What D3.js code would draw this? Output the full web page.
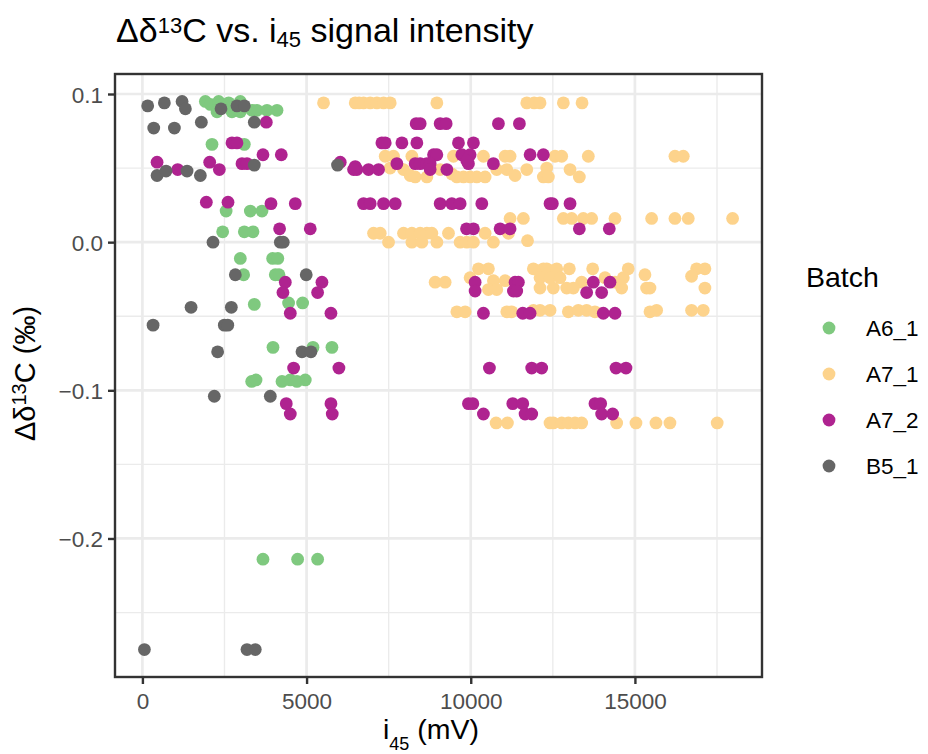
<!DOCTYPE html>
<html>
<head>
<meta charset="utf-8">
<script src="https://cdn.jsdelivr.net/npm/d3@7"></script>
<style>
  body { margin: 0; background: #fff; }
  svg { display: block; font-family: "Liberation Sans", Arial, Helvetica, sans-serif; }
</style>
</head>
<body>
<script>
// batches and their colours
const batches = ['A6_1', 'A7_1', 'A7_2', 'B5_1'];
const batchColors = ['#7FC97F', '#FDD38C', '#AF2390', '#666666'];

// [i45 (mV), delta d13C (permil)]
const a6_1 = [
  [1917,0.095],[2069,0.093],[2323,0.095],[2272,0.088],[2627,0.094],[2728,0.088],[2982,0.095],[2982,0.088],
  [3338,0.089],[3490,0.089],[3794,0.089],[4099,0.089],
  [2120,0.066],[3104,0.066],
  [2550,0.021],[3287,0.021],[3642,0.021],
  [2444,0.007],[3104,0.007],[3368,0.007],
  [2982,-0.011],[3966,-0.011],[4125,-0.011],
  [3083,-0.022],[4047,-0.022],[4160,-0.022],
  [3408,-0.042],[4452,-0.041],[4879,-0.041],
  [3977,-0.071],[5195,-0.071],[5773,-0.071],
  [3328,-0.094],[3460,-0.093],[4251,-0.094],[4504,-0.093],[4707,-0.094],[4960,-0.093],
  [3672,-0.214],[4727,-0.214],[5336,-0.214]
];

const a7_1 = [
  [5517,0.094],[6482,0.094],[6600,0.094],[6735,0.094],[6938,0.094],[7141,0.094],[7344,0.094],[7547,0.094],
  [8968,0.094],[11707,0.094],[11930,0.094],[12110,0.094],[12821,0.094],[13390,0.094],
  [7395,0.058],[7648,0.058],[8207,0.058],[9474,0.058],[10386,0.058],[11046,0.058],[11198,0.058],
  [12567,0.058],[12770,0.058],[13581,0.058],[16219,0.058],[16473,0.058],
  [7547,0.050],[7953,0.049],[8155,0.045],[8308,0.044],[8663,0.044],[9068,0.049],[9424,0.046],[9576,0.044],
  [9779,0.044],[9981,0.044],[10184,0.044],[10437,0.044],[10792,0.049],[11097,0.049],[11350,0.045],
  [11707,0.049],[12212,0.044],[12315,0.050],[12364,0.044],[13024,0.049],[13307,0.044],
  [11198,0.016],[11603,0.016],[12821,0.016],[13074,0.016],[13428,0.016],[13682,0.016],[14393,0.016],
  [15509,0.016],[16219,0.016],[16625,0.016],[17975,0.016],
  [7040,0.006],[7243,0.006],[7496,0.000],[7953,0.006],[8207,0.006],[8460,0.006],[8663,0.006],[8815,0.006],
  [8207,0.000],[8510,0.000],[8968,0.000],[9322,0.006],[9677,0.000],[9880,0.000],[10082,0.000],
  [10437,0.006],[10690,0.000],[11148,0.006],[11730,0.001],
  [10235,-0.018],[10538,-0.018],[11907,-0.018],[12212,-0.018],[12315,-0.018],[12619,-0.018],
  [13003,-0.018],[13713,-0.018],[14797,-0.018],[16879,-0.018],[17132,-0.018],
  [9981,-0.024],[12110,-0.024],[12415,-0.024],[12720,-0.024],[14089,-0.024],[14646,-0.024],
  [15306,-0.022],[16726,-0.023],
  [8916,-0.027],[9220,-0.027],[10690,-0.026],[11046,-0.026],[13378,-0.027],[14393,-0.027],
  [10538,-0.032],[10792,-0.032],[12110,-0.031],[12516,-0.031],[12922,-0.031],[13125,-0.031],
  [14596,-0.031],[15356,-0.031],[15458,-0.031],[17132,-0.031],
  [9576,-0.047],[9830,-0.047],[11097,-0.047],[11249,-0.047],[11909,-0.046],[12110,-0.046],
  [12415,-0.046],[12973,-0.047],[13277,-0.046],[13530,-0.046],[13783,-0.047],[15458,-0.047],
  [15661,-0.046],[16726,-0.046],[17081,-0.046],
  [10772,-0.122],[11117,-0.122],[12415,-0.122],[12516,-0.122],[12770,-0.122],[12973,-0.122],
  [13176,-0.122],[13378,-0.122],[14444,-0.122],[15032,-0.122],[15641,-0.122],[16067,-0.122],[17506,-0.122]
];

const a7_2 = [
  [3773,0.081],[2728,0.067],[2880,0.067],
  [446,0.054],[1075,0.049],[2049,0.054],[2343,0.049],[3033,0.053],[3186,0.053],[3672,0.059],[4230,0.059],
  [1947,0.027],[2607,0.027],[3916,0.026],[4656,0.026],
  [4178,0.009],[5112,0.009],
  [6025,0.054],[6482,0.051],[6533,0.049],
  [4352,-0.027],[4280,-0.034],[5468,-0.027],[5336,-0.034],
  [4504,-0.048],[5742,-0.048],
  [4605,-0.085],[5985,-0.085],
  [4382,-0.109],[4504,-0.116],[5742,-0.109],[5782,-0.116],
  [8338,0.080],[8460,0.080],[9068,0.080],[9251,0.080],[10843,0.080],[11482,0.080],
  [7294,0.067],[7395,0.067],[7903,0.067],[8359,0.067],[9626,0.067],[10082,0.067],
  [8867,0.059],[8968,0.059],[9728,0.059],[9981,0.059],[11807,0.059],[12212,0.059],
  [7750,0.053],[8308,0.053],[8460,0.053],[8663,0.053],[8764,0.053],[9930,0.053],[10690,0.053],[9880,0.055],
  [6431,0.049],[6887,0.049],[7192,0.049],[8764,0.049],[9272,0.049],
  [6735,0.026],[6938,0.026],[7344,0.026],[7700,0.026],[9068,0.026],[9424,0.026],[9677,0.026],
  [10337,0.026],[12415,0.026],[12486,0.026],[13024,0.026],
  [9871,0.009],[10082,0.009],[10894,0.009],[11198,0.009],[13307,0.009],[14220,0.009],
  [10133,-0.027],[10133,-0.033],[11350,-0.027],[11451,-0.027],[11300,-0.033],[11400,-0.033],
  [13733,-0.027],[14241,-0.027],[13530,-0.034],[13987,-0.034],
  [10386,-0.048],[11584,-0.048],[11807,-0.048],[14037,-0.048],[14393,-0.048],
  [10569,-0.085],[11857,-0.085],[12161,-0.085],[14424,-0.085],[14728,-0.085],
  [9930,-0.109],[10063,-0.109],[10386,-0.116],[11280,-0.109],[11584,-0.109],[11655,-0.116],[11857,-0.116],
  [13784,-0.109],[13957,-0.109],[13987,-0.116],[14322,-0.116]
];

const b5_1 = [
  [161,0.092],[669,0.094],[1208,0.095],[1309,0.090],[2394,0.090],[2880,0.092],[3104,0.092],
  [345,0.077],[974,0.077],[1795,0.081],[3408,0.081],
  [3408,0.052],[5943,0.052],
  [446,0.045],[720,0.048],[1360,0.048],[1765,0.045],
  [2150,0.000],[4200,0.000],[4290,0.000],
  [2830,-0.022],[4990,-0.022],
  [1482,-0.044],[2708,-0.044],
  [325,-0.056],[2495,-0.056],[2600,-0.056],
  [2291,-0.074],[4860,-0.074],[5134,-0.074],
  [2190,-0.104],[3895,-0.104],
  [61,-0.275],[3185,-0.275],[3438,-0.275]
];

const xTicks = [0, 5000, 10000, 15000];
const yTicks = [0.1, 0, -0.1, -0.2];

const W = 928, H = 754;
const margin = { top: 74, right: 166, bottom: 77, left: 115 };
const pw = W - margin.left - margin.right;
const ph = H - margin.top - margin.bottom;

const series = [a6_1, a7_1, a7_2, b5_1];
const rows = [];
series.forEach((s, i) => s.forEach(d => rows.push({ x: d[0], y: d[1], batch: batches[i] })));

const color = d3.scaleOrdinal().domain(batches).range(batchColors);

// ggplot style 5% expansion
const expand = (ext) => {
  const r = ext[1] - ext[0];
  return [ext[0] - 0.05 * r, ext[1] + 0.05 * r];
};
const x = d3.scaleLinear().domain(expand(d3.extent(rows, d => d.x))).range([0, pw]);
const y = d3.scaleLinear().domain(expand(d3.extent(rows, d => d.y))).range([ph, 0]);

const xMinor = [2500, 7500, 12500, 17500].filter(v => v >= x.domain()[0] && v <= x.domain()[1]);
const yMinor = [0.05, -0.05, -0.15, -0.25].filter(v => v >= y.domain()[0] && v <= y.domain()[1]);

const svg = d3.select('body').append('svg').attr('width', W).attr('height', H);
svg.append('rect').attr('width', W).attr('height', H).attr('fill', '#fff');

const g = svg.append('g').attr('transform', `translate(${margin.left},${margin.top})`);

// grid
g.selectAll('.xminor').data(xMinor).enter().append('line')
  .attr('x1', d => x(d)).attr('x2', d => x(d)).attr('y1', 0).attr('y2', ph)
  .attr('stroke', '#EBEBEB').attr('stroke-width', 1.35);
g.selectAll('.yminor').data(yMinor).enter().append('line')
  .attr('y1', d => y(d)).attr('y2', d => y(d)).attr('x1', 0).attr('x2', pw)
  .attr('stroke', '#EBEBEB').attr('stroke-width', 1.35);
g.selectAll('.xmajor').data(xTicks).enter().append('line')
  .attr('x1', d => x(d)).attr('x2', d => x(d)).attr('y1', 0).attr('y2', ph)
  .attr('stroke', '#EBEBEB').attr('stroke-width', 2.7);
g.selectAll('.ymajor').data(yTicks).enter().append('line')
  .attr('y1', d => y(d)).attr('y2', d => y(d)).attr('x1', 0).attr('x2', pw)
  .attr('stroke', '#EBEBEB').attr('stroke-width', 2.7);

// points
g.append('g').selectAll('circle').data(rows).enter().append('circle')
  .attr('cx', d => x(d.x))
  .attr('cy', d => y(d.y))
  .attr('r', 6.4)
  .attr('fill', d => color(d.batch));

// panel border
g.append('rect').attr('width', pw).attr('height', ph)
  .attr('fill', 'none').attr('stroke', '#333333').attr('stroke-width', 2.4);

// axes
const fmtY = d => d3.format('.1f')(d).replace('-', '\u2212');
const xAxis = g.append('g').attr('transform', `translate(0,${ph})`)
  .call(d3.axisBottom(x).tickValues(xTicks).tickFormat(d3.format('d')).tickSize(7).tickPadding(5));
const yAxis = g.append('g')
  .call(d3.axisLeft(y).tickValues(yTicks).tickFormat(fmtY).tickSize(7).tickPadding(5));
[xAxis, yAxis].forEach(a => {
  a.select('.domain').remove();
  a.selectAll('.tick line').attr('stroke', '#333333').attr('stroke-width', 2.4);
  a.selectAll('.tick text').attr('fill', '#4D4D4D').style('font-size', '22.5px')
    .style('font-family', '"Liberation Sans", Arial, Helvetica, sans-serif');
});
xAxis.selectAll('.tick text').attr('dy', null).attr('y', 32);
yAxis.selectAll('.tick text').attr('dy', '0.36em');

// title
const title = svg.append('text').attr('x', 116).attr('y', 42)
  .style('font-size', '34px').attr('fill', '#000');
title.append('tspan').text('\u0394\u03b4');
title.append('tspan').attr('dy', -9).style('font-size', '22px').text('13');
title.append('tspan').attr('dy', 9).text('C vs. i');
title.append('tspan').attr('dy', 5).style('font-size', '22px').text('45');
title.append('tspan').attr('dy', -5).text(' signal intensity');

// x axis title
const xt = svg.append('text').attr('x', 431).attr('y', 739)
  .attr('text-anchor', 'middle').style('font-size', '28.5px').attr('fill', '#000');
xt.append('tspan').text('i');
xt.append('tspan').attr('dy', 11).style('font-size', '18px').text('45');
xt.append('tspan').attr('dy', -11).text(' (mV)');

// y axis title
const yt = svg.append('text')
  .attr('transform', `translate(35,${margin.top + ph / 2 - 2}) rotate(-90)`)
  .attr('text-anchor', 'middle').style('font-size', '29px').attr('fill', '#000');
yt.append('tspan').text('\u0394\u03b4');
yt.append('tspan').attr('dy', -9).style('font-size', '20px').text('13');
yt.append('tspan').attr('dy', 9).text('C (\u2030)');

// legend
const legend = svg.append('g').attr('transform', 'translate(806,0)');
legend.append('text').attr('x', 0).attr('y', 287).style('font-size', '28.5px').text('Batch');
const items = legend.selectAll('.item').data(batches).enter().append('g')
  .attr('transform', (d, i) => `translate(0,${328 + i * 46})`);
items.append('circle').attr('cx', 23).attr('cy', 0).attr('r', 6.4).attr('fill', d => color(d));
items.append('text').attr('x', 60).attr('dy', '0.36em').style('font-size', '22.5px').attr('fill', '#000').text(d => d);
</script>
</body>
</html>
